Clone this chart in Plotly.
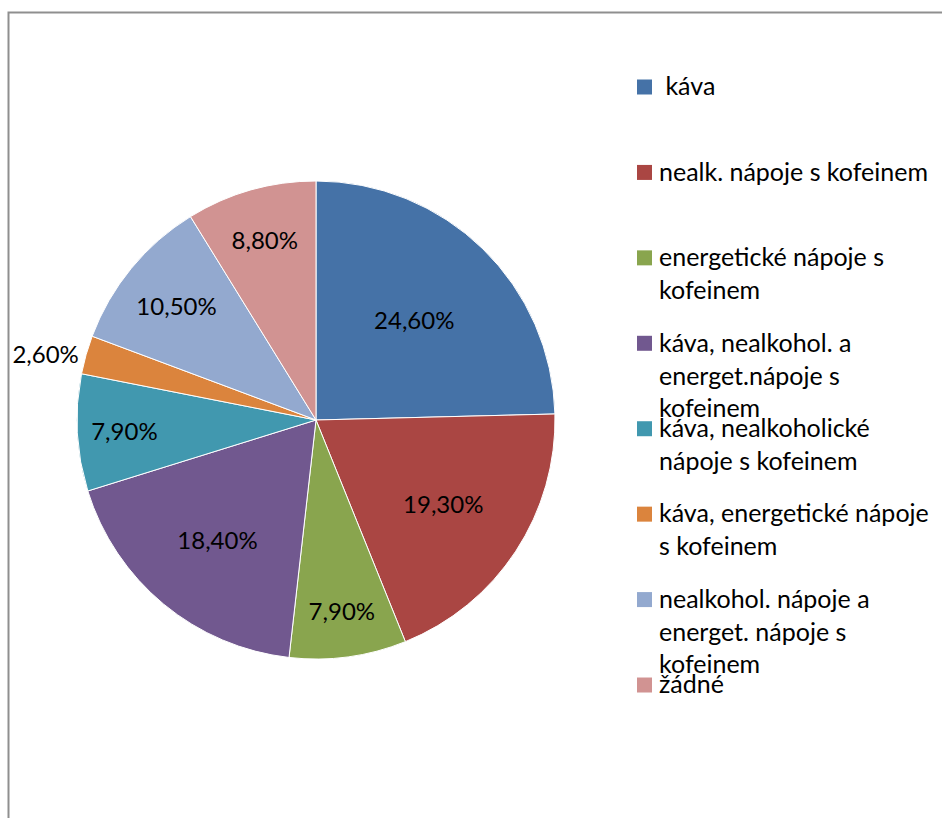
import plotly.graph_objects as go

# Consumption of caffeinated drinks (share of respondents, %)
categories = [
    " káva",
    "nealk. nápoje s kofeinem",
    "energetické nápoje s<br>kofeinem",
    "káva, nealkohol. a<br>energet.nápoje s<br>kofeinem",
    "káva, nealkoholické<br>nápoje s kofeinem",
    "káva, energetické nápoje<br>s kofeinem",
    "nealkohol. nápoje a<br>energet. nápoje s<br>kofeinem",
    "žádné",
]
shares = [24.6, 19.3, 7.9, 18.4, 7.9, 2.6, 10.5, 8.8]
colors = ["#4572A7", "#AA4643", "#89A54E", "#71588F",
          "#4198AF", "#DB843D", "#93A9CF", "#D19392"]
label_positions = ["inside", "inside", "inside", "inside",
                   "inside", "outside", "inside", "inside"]

W, H = 942, 818
FONT = "Lato"
FS = 24          # slice labels
LEG_FS = 25      # legend captions

fig = go.Figure(
    go.Pie(
        labels=categories,
        values=shares,
        sort=False,
        direction="clockwise",
        rotation=0,
        marker=dict(colors=colors, line=dict(color="white", width=1)),
        texttemplate="%{value:.2f}%",
        textposition=label_positions,
        insidetextorientation="horizontal",
        textfont=dict(family=FONT, size=FS, color="black"),
        showlegend=False,
        domain=dict(x=[77 / W, 555 / W], y=[1 - 659 / H, 1 - 181 / H]),
    )
)

# Legend drawn beside the pie: swatch + wrapped caption, evenly spaced
shapes = []
annotations = []
first_center = 87
pitch = 85.43
sw = 15
for i, (name, col) in enumerate(zip(categories, colors)):
    cy = first_center + pitch * i
    shapes.append(dict(
        type="rect", xref="paper", yref="paper",
        x0=637 / W, x1=(637 + sw) / W,
        y0=1 - (cy + sw / 2) / H, y1=1 - (cy - sw / 2) / H,
        fillcolor=col, line=dict(width=0),
    ))
    annotations.append(dict(
        xref="paper", yref="paper",
        x=657 / W, y=1 - (cy - 18.7) / H,
        xanchor="left", yanchor="top", align="left",
        text=name, showarrow=False,
        font=dict(family=FONT, size=LEG_FS, color="black"),
    ))

# Chart area frame (top and left edges visible)
shapes.append(dict(
    type="rect", xref="paper", yref="paper",
    x0=8.5 / W, x1=1.2, y0=-0.2, y1=1 - 12.5 / H,
    line=dict(color="#8f8f8f", width=2), fillcolor="rgba(0,0,0,0)",
))

fig.update_layout(
    width=W, height=H,
    margin=dict(l=0, r=0, t=0, b=0),
    paper_bgcolor="white", plot_bgcolor="white",
    separators=", ",
    uniformtext=dict(minsize=FS, mode="show"),
    shapes=shapes,
    annotations=annotations,
    font=dict(family=FONT),
)

fig.write_html("out.html")
